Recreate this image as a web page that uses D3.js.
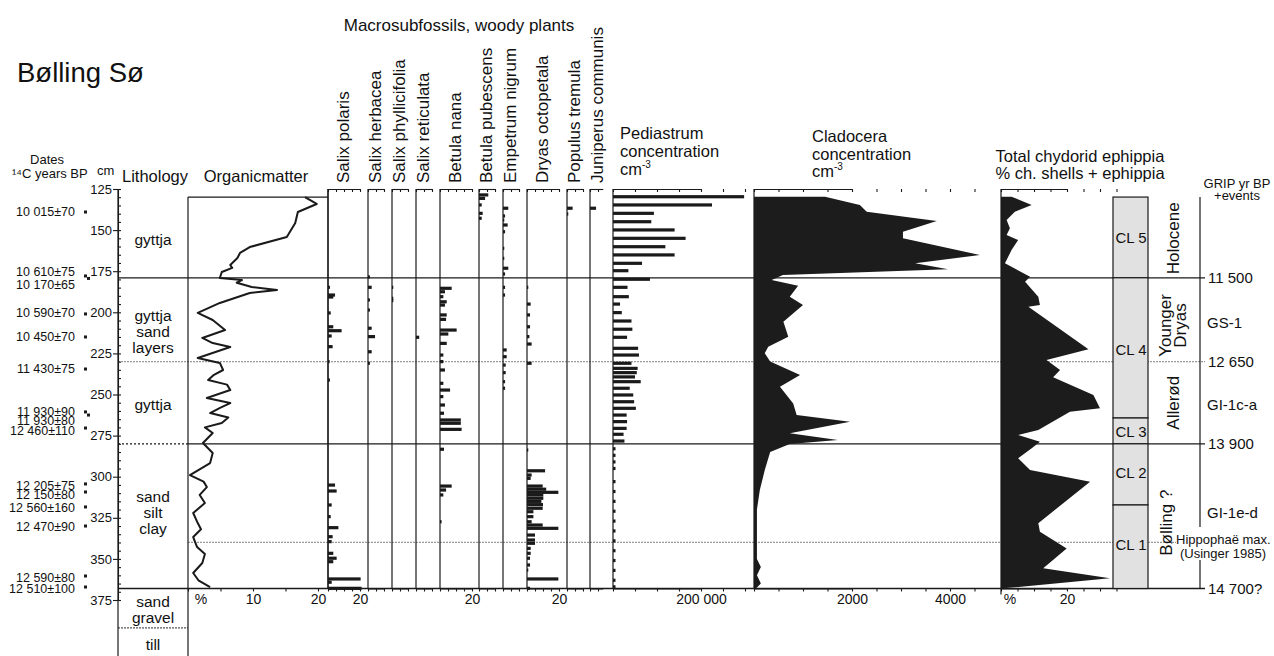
<!DOCTYPE html>
<html lang="en">
<head>
<meta charset="UTF-8">
<title>Bølling Sø</title>
<script src="https://cdn.jsdelivr.net/npm/d3@7"></script>
<style>
  body { margin: 0; background: #fff; }
  svg text { font-family: "Liberation Sans", Arial, sans-serif; fill: #111; }
</style>
</head>
<body>
<svg id="chart" width="1274" height="656"></svg>
<script>
// ---------- data (depth in cm) ----------
const depthTicks = [125, 150, 175, 200, 225, 250, 275, 300, 325, 350, 375];

const dateLabels = ["10 015±70", "10 610±75", "10 170±65", "10 590±70", "10 450±70", "11 430±75",
  "11 930±90", "11 930±80", "12 460±110", "12 205±75", "12 150±80", "12 560±160", "12 470±90",
  "12 590±80", "12 510±100"];
const dateLabelDepth = [138.8, 175.5, 183.4, 200.4, 214.6, 234.5, 260.3, 265.6, 271.8, 305.4, 310.7, 318.8, 330.3, 361.3, 367.8];
const dateSampleDepth = [139, 177.9, 179.4, 201, 215, 234.5, 260.6, 262.5, 270.4, 304.4, 309.3, 318.4, 330, 360.4, 367.1];

const lithoLabels = [["gyttja"], ["gyttja", "sand", "layers"], ["gyttja"], ["sand", "silt", "clay"], ["sand", "gravel"], ["till"]];
const lithoLabelDepth = [156, 212, 256, 322, 381, 402];

const organicDepth = [129.9, 134.1, 139.0, 145.7, 154.2, 160.3, 163.9, 167, 171.2, 173, 175.5, 179.1, 180.4, 182, 184.6,
  186.4, 188.3, 194.3, 200.4, 204.7, 210.8, 215.6, 218.7, 221.1, 227.8, 230.8, 235.1, 238, 241.2, 244, 247.3, 252.1,
  255.2, 258, 261.3, 264, 267.3, 270, 273.4, 279.5, 285.6, 291.7, 299, 303, 306.3, 311.1, 316, 322.1, 328.2, 332,
  336.7, 342.8, 347, 352.5, 358.6, 363, 367.1];
const organicValue = [18.0, 19.8, 16.9, 16.5, 15.2, 9.5, 8.0, 7.6, 6.5, 6.8, 5.2, 4.9, 8.3, 7.5, 9.8,
  13.7, 9.5, 4.9, 1.5, 3.8, 5.7, 2.2, 3.8, 6.5, 1.5, 4.9, 5.4, 4.0, 3.1, 6.0, 6.5, 2.9,
  6.5, 5.0, 3.4, 6.2, 5.2, 2.6, 3.8, 2.3, 3.8, 3.4, 0.3, 2.4, 2.9, 1.8, 2.6, 0.8, 1.5, 2.0,
  0.8, 1.4, 2.6, 2.2, 0.8, 1.6, 3.4];

const macroTitle = "Macrosubfossils, woody plants";
const macroNames = ["Salix polaris", "Salix herbacea", "Salix phyllicifolia", "Salix reticulata", "Betula nana",
  "Betula pubescens", "Empetrum nigrum", "Dryas octopetala", "Populus tremula", "Juniperus communis"];
const macroAxisMax = [20, 10, 10, 10, 20, 10, 10, 20, 10, 8];
const salixPolaris = [[184.8, 1.2], [189.5, 4.4], [190.7, 3.3], [200.4, 1.7], [208.8, 3.3], [211.2, 8.5], [214.4, 2.3],
  [220.9, 2.9], [230.0, 1.0], [241.2, 1.2], [305.1, 4.4], [308.7, 5.4], [317.2, 2.3], [324.3, 1.7], [331.0, 6.5],
  [336.5, 2.9], [339.5, 2.3], [346.6, 3.3], [349.6, 5.4], [351.7, 3.3], [362.2, 20.4], [364.2, 2.3], [367.9, 21]];
const salixHerbacea = [[178.5, 1.2], [184.8, 2.3], [192.5, 1.2], [198.6, 1.2], [209.7, 2.3], [214.8, 4.4], [224.0, 2.3], [231.0, 1.2]];
const salixPhyllicifolia = [[184.8, 0.8], [191.5, 0.8], [192.9, 0.8]];
const salixReticulata = [[215.2, 2]];
const betulaNana = [[185.4, 7.3], [187.5, 3.1], [190.5, 2.1], [193.6, 4.2], [195.6, 3.1], [201.6, 4.2], [204.3, 3.8],
  [210.8, 10.4], [213.2, 5.2], [218.9, 4.2], [226.0, 2.1], [230.0, 2.1], [235.1, 3.1], [243.2, 2.1], [247.3, 6.3],
  [251.3, 2.1], [256.4, 3.1], [261.4, 2.5], [265.5, 13], [267.5, 13], [271.2, 13.5], [283.3, 2.5], [305.7, 7.3],
  [308.1, 3.8], [311.1, 2.1], [327.4, 1]];
const betulaPubescens = [[128.6, 5.8], [130.7, 3.8], [134.7, 1.7], [139.8, 2.3], [142.8, 1.7]];
const empetrumNigrum = [[136.7, 3.3], [141.4, 1.3], [143.9, 0.8], [146.9, 2.9], [151.0, 1.3], [161.1, 0.8], [167.2, 0.8],
  [173.2, 3.3], [176.7, 1.3], [184.8, 1.3], [189.5, 1.3], [222.9, 2.3], [227.0, 2.3], [232.1, 1.7], [236.7, 1.7],
  [242.2, 1.3], [246.2, 1.3]];
const dryasOctopetala = [[184.8, 0.8], [195.0, 2.3], [201.6, 1.9], [208.8, 1.9], [214.8, 1.5], [219.3, 2.9], [231.0, 2.9],
  [283.8, 0.8], [296.4, 11.3], [299.0, 2.9], [301.0, 2.3], [305.7, 9.8], [307.6, 12], [309.5, 19.6], [311.1, 10.2],
  [313.1, 10.2], [315, 9], [317, 10], [319.2, 9.8], [321.3, 4], [324.3, 4], [327.4, 2.9], [329.4, 9.8], [331.4, 19.6],
  [335.5, 5], [338.5, 5], [340.5, 5], [343.6, 2.3], [346.6, 2.3], [349.6, 1.9], [353.7, 1.9], [356.8, 0.8],
  [362.2, 19.6], [367.9, 1.9]];
const populusTremula = [[136.7, 3.5], [140.2, 0.8]];
const juniperusCommunis = [[136.7, 3.8]];
const macroSeries = [salixPolaris, salixHerbacea, salixPhyllicifolia, salixReticulata, betulaNana,
  betulaPubescens, empetrumNigrum, dryasOctopetala, populusTremula, juniperusCommunis];

const pediastrumDepth = [129.7, 134.7, 139.8, 144.9, 149.9, 155.0, 160.1, 165.1, 170.2, 174.7, 179.9, 184.8, 190.5,
  195.0, 200.2, 205.3, 210.3, 215.2, 221.9, 226.0, 231.0, 234.1, 236.7, 239.3, 242.2, 246.2, 250.3, 254.4, 258.4,
  262.5, 266.5, 270.6, 274.2, 278.3, 283, 287, 291, 295, 303, 309, 315, 321, 327, 333, 339, 345, 351, 357, 363, 367];
const pediastrumValue = [298000, 225000, 93000, 87000, 140000, 165000, 119000, 140000, 66000, 35000, 84000, 33000, 36000,
  16000, 20000, 42000, 44000, 32000, 57000, 59000, 42000, 56000, 54000, 50000, 63000, 38000, 46000, 48000, 52000,
  31000, 32000, 31000, 24000, 26000, 5000, 5000, 4000, 3000, 4000, 3000, 4000, 3000, 4000, 3000, 4000, 3000, 4000, 3000, 5000, 3000];

const cladoceraDepth = [129.7, 134.7, 138.8, 144.5, 151.0, 155.0, 165.1, 170.2, 173.8, 177.3, 180.4, 183.8, 190.5, 195.6,
  205.7, 214.8, 220.9, 224.9, 230.0, 238.1, 245.3, 255.4, 262.5, 266.5, 273.6, 277.7, 280.1, 285, 296, 308, 320, 332,
  350, 355, 360, 365, 368];
const cladoceraValue = [1450, 2160, 2300, 3730, 3040, 3040, 4610, 3290, 3960, 590, 360, 900, 730, 1000,
  600, 700, 290, 220, 330, 940, 530, 800, 870, 1960, 730, 1710, 730, 330, 220, 120, 60, 60,
  60, 140, 60, 140, 40];

const chydoridDepth = [129.7, 134.7, 138.8, 143.9, 148.9, 153.0, 156.0, 162.1, 170.2, 178.3, 181.4, 190.5, 195.6, 196.6,
  222.5, 229.0, 235.1, 239.5, 250.3, 258.4, 260.5, 271.6, 274.6, 278.7, 282.7, 288.8, 295.9, 303.0, 328.3, 333.5,
  343.6, 355.7, 361.8, 367.9];
const chydoridValue = [3.2, 9.3, 4.2, 1.7, 2.7, 1.7, 5.2, 3.2, 1.2, 8.8, 7.3, 11.3, 11.8, 8.3,
  26.5, 13.8, 17.9, 15.8, 28, 30, 20.9, 11.3, 5.2, 11.8, 9.3, 5.2, 8.8, 27, 11.3, 11.8,
  19.9, 12.8, 33, 0.7];

const clNames = ["CL 5", "CL 4", "CL 3", "CL 2", "CL 1"];
const clTop = [129.9, 179, 264.3, 280, 317.2];
const clBottom = [179, 264.3, 280, 317.2, 368];
const clLabelDepth = [154.9, 222.9, 272.6, 297.7, 341.5];

const chronoNames = [["Holocene"], ["Younger", "Dryas"], ["Allerød"], ["Bølling ?"]];
const chronoLabelDepth = [155, 208, 255, 328];

const gripLabels = ["11 500", "GS-1", "12 650", "GI-1c-a", "13 900", "GI-1e-d", "14 700?"];
const gripLabelDepth = [179, 206.5, 230, 256.4, 280, 322, 368];

const zoneDepth = [179, 230, 280, 340, 368];

// ---------- layout ----------
const svg = d3.select("#chart");
const font = "\"Liberation Sans\", Arial, sans-serif";
const y = d3.scaleLinear().domain([125, 375]).range([189, 600]);
const coreTop = 129.9, coreBottom = 368;
const topAxisY = 189, botAxisY = y(coreBottom);
const ink = "#1a1a1a";

svg.append("rect").attr("width", 1274).attr("height", 656).attr("fill", "#fff");

function styleAxis(g, size) {
  g.selectAll("path,line").attr("stroke", ink).attr("stroke-width", 1.1);
  g.selectAll("text").attr("font-family", font).attr("font-size", size || 14).attr("fill", "#222");
}

// title
svg.append("text").attr("x", 17).attr("y", 82).attr("font-size", 27.5).text("Bølling Sø");

// zone lines (behind everything)
const zoneG = svg.append("g");
function hline(d, x1, x2, color, dash) {
  zoneG.append("line").attr("x1", x1).attr("x2", x2).attr("y1", y(d)).attr("y2", y(d))
    .attr("stroke", color).attr("stroke-width", 1.3).attr("stroke-dasharray", dash || null);
}
hline(zoneDepth[0], 118, 1205, ink);
hline(zoneDepth[1], 118, 1205, "#9a9a9a", "2,1");
hline(zoneDepth[2], 118, 188, ink, "2,2");
hline(zoneDepth[2], 188, 1205, ink);
hline(zoneDepth[3], 188, 1176, "#9a9a9a", "2,1");
hline(zoneDepth[4], 118, 1205, ink);
hline(392, 118, 188, "#555", "2,1");

// ---------- dates & depth axis ----------
svg.append("text").attr("x", 47).attr("y", 164).attr("text-anchor", "middle").attr("font-size", 13).text("Dates");
svg.append("text").attr("x", 12).attr("y", 178).attr("font-size", 13).text("¹⁴C years BP");
svg.append("text").attr("x", 97).attr("y", 175).attr("font-size", 13).text("cm");

svg.append("g").selectAll("text").data(dateLabels).join("text")
  .attr("x", 75).attr("y", (d, i) => y(dateLabelDepth[i])).attr("dy", "0.35em")
  .attr("text-anchor", "end").attr("font-size", 12.5).text(d => d);
svg.append("g").selectAll("rect").data(dateSampleDepth).join("rect")
  .attr("x", (d, i) => (i > 0 && d - dateSampleDepth[i - 1] < 3) ? 87 : 84)
  .attr("y", d => y(d) - 1.5).attr("width", 3).attr("height", 3).attr("fill", ink);

const depthAxis = svg.append("g").attr("transform", "translate(118,0)")
  .call(d3.axisLeft(y).tickValues(depthTicks).tickSize(5).tickSizeOuter(0).tickPadding(1));
styleAxis(depthAxis, 13);
depthAxis.selectAll("text").attr("fill", "#444");
const minorAxis = svg.append("g").attr("transform", "translate(118,0)")
  .call(d3.axisRight(y).tickValues(d3.range(125, 376, 5)).tickSize(3).tickSizeOuter(0).tickFormat(""));
styleAxis(minorAxis);
minorAxis.select(".domain").remove();

// ---------- lithology ----------
svg.append("text").attr("x", 155).attr("y", 182).attr("text-anchor", "middle").attr("font-size", 16.5).text("Lithology");
svg.append("line").attr("x1", 118).attr("x2", 118).attr("y1", 189).attr("y2", 656).attr("stroke", ink).attr("stroke-width", 1.2);
svg.append("line").attr("x1", 188).attr("x2", 188).attr("y1", y(coreTop)).attr("y2", 656).attr("stroke", ink).attr("stroke-width", 1.2);
lithoLabels.forEach((lines, i) => {
  const cy = y(lithoLabelDepth[i]);
  lines.forEach((t, j) => {
    svg.append("text").attr("x", 153).attr("y", cy + (j - (lines.length - 1) / 2) * 16).attr("dy", "0.35em")
      .attr("text-anchor", "middle").attr("font-size", 15.5).text(t);
  });
});

// ---------- organic matter ----------
const xOrg = d3.scaleLinear().domain([0, 20]).range([188, 318]);
svg.append("text").attr("x", 256).attr("y", 182).attr("text-anchor", "middle").attr("font-size", 16.5).text("Organicmatter");
svg.append("line").attr("x1", 188).attr("x2", 328).attr("y1", y(coreTop)).attr("y2", y(coreTop)).attr("stroke", ink).attr("stroke-width", 1.3);
svg.append("line").attr("x1", 328).attr("x2", 328).attr("y1", topAxisY).attr("y2", botAxisY).attr("stroke", ink).attr("stroke-width", 1.2);
svg.append("path").datum(organicDepth.map((d, i) => [d, organicValue[i]]))
  .attr("fill", "none").attr("stroke", ink).attr("stroke-width", 2).attr("stroke-linejoin", "round")
  .attr("d", d3.line().x(d => xOrg(d[1])).y(d => y(d[0])));
const orgAxis = svg.append("g").attr("transform", `translate(0,${botAxisY})`)
  .call(d3.axisBottom(xOrg).tickValues([0, 5, 10, 15, 20]).tickSize(3).tickSizeOuter(0)
    .tickFormat(d => d === 0 ? "%" : (d % 10 === 0 ? d : "")));
styleAxis(orgAxis);
orgAxis.select(".domain").attr("d", `M188,0H328`);
orgAxis.selectAll(".tick text").filter(d => d === 0).attr("dx", "0.9em");

// ---------- macrosubfossils ----------
const macroLeft = [328, 368, 392, 416, 440, 479, 503, 527, 567, 590];
const macroPx = 1.6;
svg.append("text").attr("x", 459).attr("y", 31).attr("text-anchor", "middle").attr("font-size", 17).text(macroTitle);
macroNames.forEach((name, i) => {
  const left = macroLeft[i];
  const xs = d3.scaleLinear().domain([0, macroAxisMax[i]]).range([left, left + macroAxisMax[i] * macroPx]);
  const lx = left + (macroAxisMax[i] === 20 ? 15 : 7);
  svg.append("text").attr("transform", `translate(${lx},183) rotate(-90)`).attr("dy", "0.35em")
    .attr("font-size", 17).text(name);
  svg.append("line").attr("x1", left).attr("x2", left).attr("y1", topAxisY).attr("y2", botAxisY)
    .attr("stroke", ink).attr("stroke-width", 1.2);
  const ticks = d3.range(0, macroAxisMax[i] + 0.1, 5);
  const ta = svg.append("g").attr("transform", `translate(0,${topAxisY})`)
    .call(d3.axisBottom(xs).tickValues(ticks).tickSize(3).tickSizeOuter(0).tickFormat(""));
  styleAxis(ta);
  const ba = svg.append("g").attr("transform", `translate(0,${botAxisY})`)
    .call(d3.axisBottom(xs).tickValues(ticks).tickSize(3).tickSizeOuter(0).tickFormat(d => d === 20 ? "20" : ""));
  styleAxis(ba);
  svg.append("g").selectAll("rect").data(macroSeries[i]).join("rect")
    .attr("x", left).attr("y", d => y(d[0]) - 1.6).attr("height", 3.2)
    .attr("width", d => xs(d[1]) - left).attr("fill", ink);
});

// ---------- Pediastrum ----------
const xPed = d3.scaleLinear().domain([0, 200000]).range([613, 701]);
[["Pediastrum", 139], ["concentration", 157]].forEach(t =>
  svg.append("text").attr("x", 620).attr("y", t[1]).attr("font-size", 16.5).text(t[0]));
svg.append("text").attr("x", 620).attr("y", 175).attr("font-size", 16.5).text("cm")
  .append("tspan").attr("font-size", 10).attr("dy", -7).text("-3");
svg.append("line").attr("x1", 613).attr("x2", 613).attr("y1", topAxisY).attr("y2", botAxisY).attr("stroke", ink).attr("stroke-width", 1.2);
const pedTicks = d3.range(0, 300001, 50000);
styleAxis(svg.append("g").attr("transform", `translate(0,${topAxisY})`)
  .call(d3.axisBottom(xPed).tickValues(pedTicks).tickSize(3).tickSizeOuter(0).tickFormat("")));
styleAxis(svg.append("g").attr("transform", `translate(0,${botAxisY})`)
  .call(d3.axisBottom(xPed).tickValues(pedTicks).tickSize(3).tickSizeOuter(0)
    .tickFormat(d => d === 200000 ? "200 000" : "")));
svg.append("g").selectAll("rect").data(pediastrumDepth).join("rect")
  .attr("x", 613).attr("y", d => y(d) - 1.6).attr("height", 3.2)
  .attr("width", (d, i) => Math.max(2.5, xPed(pediastrumValue[i]) - 613)).attr("fill", ink);

// ---------- Cladocera ----------
const xClad = d3.scaleLinear().domain([0, 2000]).range([754, 852]);
[["Cladocera", 142], ["concentration", 160]].forEach(t =>
  svg.append("text").attr("x", 812).attr("y", t[1]).attr("font-size", 16.5).text(t[0]));
svg.append("text").attr("x", 812).attr("y", 177).attr("font-size", 16.5).text("cm")
  .append("tspan").attr("font-size", 10).attr("dy", -7).text("-3");
const cladTicks = d3.range(0, 4501, 500);
styleAxis(svg.append("g").attr("transform", `translate(0,${topAxisY})`)
  .call(d3.axisBottom(xClad).tickValues(cladTicks).tickSize(3).tickSizeOuter(0).tickFormat("")));
styleAxis(svg.append("g").attr("transform", `translate(0,${botAxisY})`)
  .call(d3.axisBottom(xClad).tickValues(cladTicks).tickSize(3).tickSizeOuter(0)
    .tickFormat(d => d === 2000 || d === 4000 ? d : "")));
svg.append("path").datum(cladoceraDepth.map((d, i) => [d, cladoceraValue[i]]))
  .attr("fill", "#1c1c1c")
  .attr("d", d3.area().y(d => y(d[0])).x0(754).x1(d => xClad(d[1])));
svg.append("line").attr("x1", 754).attr("x2", 754).attr("y1", topAxisY).attr("y2", botAxisY).attr("stroke", ink).attr("stroke-width", 1.2);

// ---------- Chydorid ephippia ----------
const xChy = d3.scaleLinear().domain([0, 20]).range([1001, 1067]);
svg.append("text").attr("x", 1080).attr("y", 162).attr("text-anchor", "middle").attr("font-size", 16.5).text("Total chydorid ephippia");
svg.append("text").attr("x", 1080).attr("y", 179).attr("text-anchor", "middle").attr("font-size", 16.5).text("% ch. shells + ephippia");
const chyTicks = d3.range(0, 40, 5);
styleAxis(svg.append("g").attr("transform", `translate(0,${topAxisY})`)
  .call(d3.axisBottom(xChy).tickValues(chyTicks).tickSize(3).tickSizeOuter(0).tickFormat("")));
const chyBot = svg.append("g").attr("transform", `translate(0,${botAxisY})`)
  .call(d3.axisBottom(xChy).tickValues(chyTicks).tickSize(3).tickSizeOuter(0)
    .tickFormat(d => d === 0 ? "%" : (d === 20 ? "20" : "")));
styleAxis(chyBot);
chyBot.selectAll(".tick text").filter(d => d === 0).attr("dx", "0.6em");
svg.append("path").datum(chydoridDepth.map((d, i) => [d, chydoridValue[i]]))
  .attr("fill", "#1c1c1c")
  .attr("d", d3.area().y(d => y(d[0])).x0(1001).x1(d => xChy(d[1])));
svg.append("line").attr("x1", 1001).attr("x2", 1001).attr("y1", topAxisY).attr("y2", botAxisY + 6).attr("stroke", ink).attr("stroke-width", 1.2);

// ---------- CL zones ----------
const clG = svg.append("g");
clNames.forEach((n, i) => {
  clG.append("rect").attr("x", 1113).attr("width", 35).attr("y", y(clTop[i]))
    .attr("height", y(clBottom[i]) - y(clTop[i])).attr("fill", "#e1e1e1").attr("stroke", ink).attr("stroke-width", 1.2);
  clG.append("text").attr("x", 1131).attr("y", y(clLabelDepth[i])).attr("dy", "0.35em")
    .attr("text-anchor", "middle").attr("font-size", 15).text(n);
});
hline(zoneDepth[3], 1113, 1148, "#9a9a9a", "2,1");
clG.raise();

// chronozones
chronoNames.forEach((lines, i) => {
  lines.forEach((t, j) => {
    const cx = 1173 + (j - (lines.length - 1) / 2) * 15 - (t === "Bølling ?" ? 7 : 0);
    svg.append("text").attr("transform", `translate(${cx},${y(chronoLabelDepth[i])}) rotate(-90)`)
      .attr("dy", "0.35em").attr("text-anchor", "middle").attr("font-size", 17).text(t);
  });
});

// ---------- GRIP ----------
svg.append("text").attr("x", 1237).attr("y", 188).attr("text-anchor", "middle").attr("font-size", 13).text("GRIP yr BP");
svg.append("text").attr("x", 1237).attr("y", 200).attr("text-anchor", "middle").attr("font-size", 13).text("+events");
svg.append("line").attr("x1", 1200).attr("x2", 1200).attr("y1", y(coreTop)).attr("y2", 527).attr("stroke", ink).attr("stroke-width", 1.2);
svg.append("line").attr("x1", 1200).attr("x2", 1200).attr("y1", 560).attr("y2", botAxisY).attr("stroke", ink).attr("stroke-width", 1.2);
svg.append("g").selectAll("text").data(gripLabels).join("text")
  .attr("x", d => /^\d/.test(d) ? 1208 : 1207).attr("y", (d, i) => y(gripLabelDepth[i])).attr("dy", "0.35em")
  .attr("font-size", 15).text(d => d);
svg.append("text").attr("x", 1176).attr("y", y(340)).attr("dy", "0.1em").attr("font-size", 13).text("Hippophaë max.");
svg.append("text").attr("x", 1180).attr("y", y(340) + 14).attr("dy", "0.1em").attr("font-size", 13).text("(Usinger 1985)");
</script>
</body>
</html>
